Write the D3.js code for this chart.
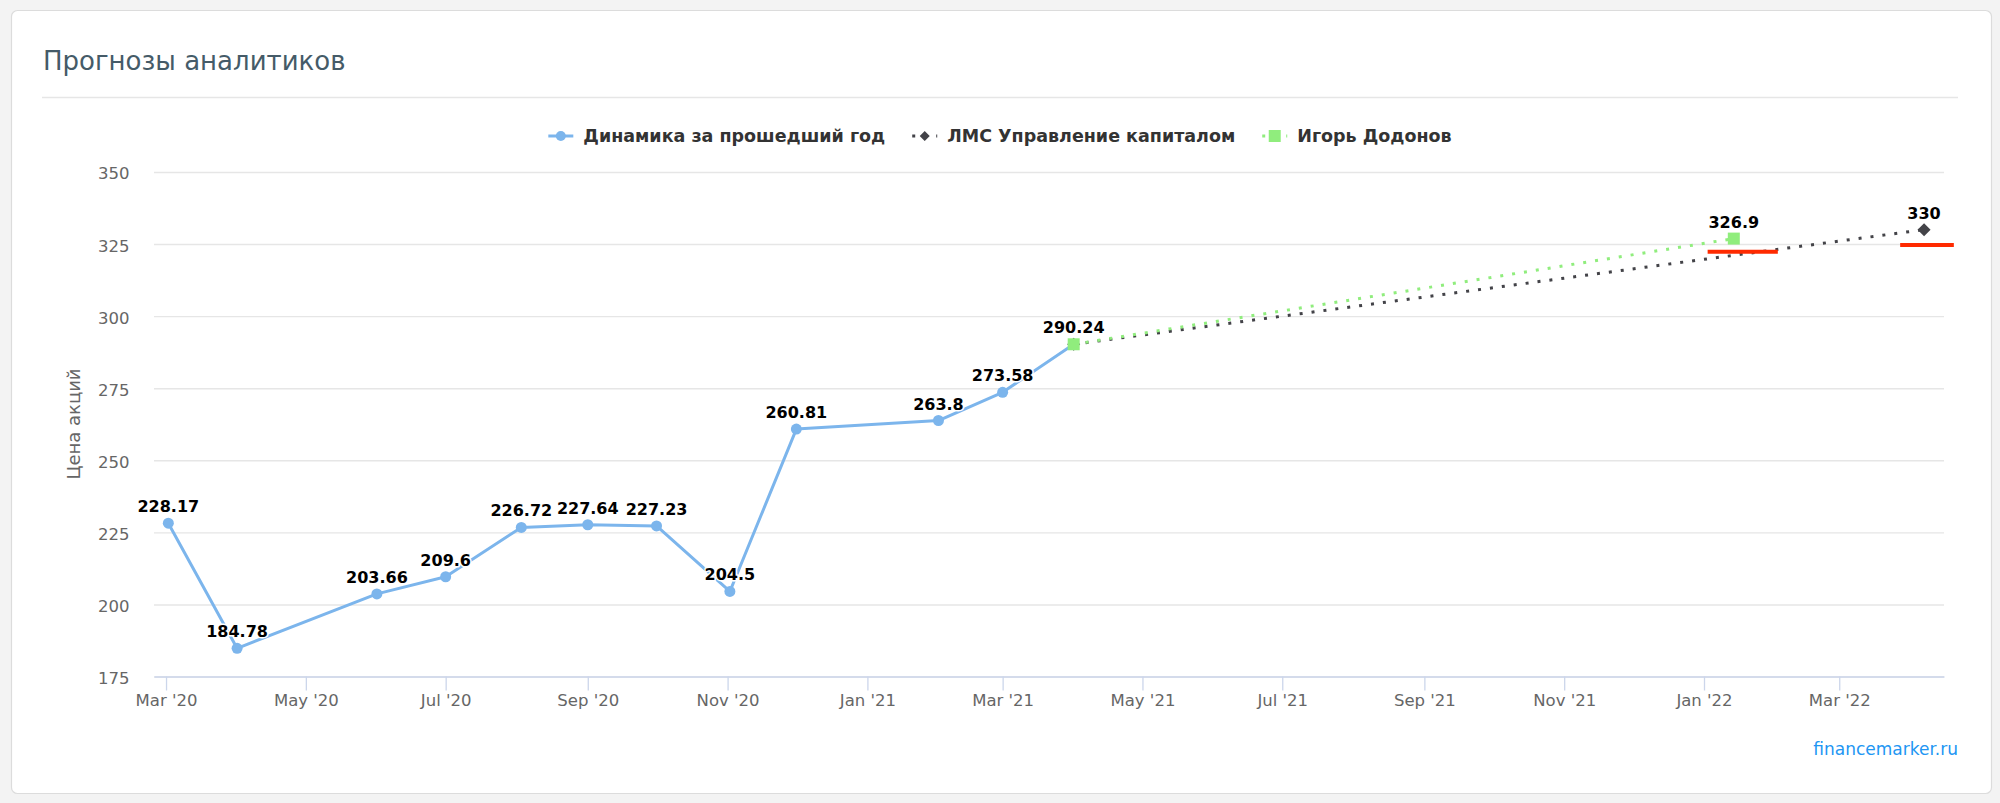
<!DOCTYPE html>
<html><head><meta charset="utf-8">
<script src="https://cdn.jsdelivr.net/npm/d3@7"></script>
<style>
html,body{margin:0;padding:0;background:#f3f3f3;}
svg{display:block;}
text{font-family:"DejaVu Sans",sans-serif;}
</style></head><body>
<svg id="chart" width="2000" height="803"></svg>
<script>
// ---------- data ----------
const titleText = "Прогнозы аналитиков";
const yAxisTitle = "Цена акций";
const creditText = "financemarker.ru";
const seriesNames = ["Динамика за прошедший год", "ЛМС Управление капиталом", "Игорь Додонов"];

const historyDates = ["2020-03-02","2020-04-01","2020-06-01","2020-07-01","2020-08-03","2020-09-01",
                      "2020-10-01","2020-11-02","2020-12-01","2021-02-01","2021-03-01","2021-04-01"];
const historyValues = [228.17, 184.78, 203.66, 209.6, 226.72, 227.64, 227.23, 204.5, 260.81, 263.8, 273.58, 290.24];

const lmsDates = ["2021-04-01", "2022-04-07"];
const lmsValues = [290.24, 330];

const dodonovDates = ["2021-04-01", "2022-01-14"];
const dodonovValues = [290.24, 326.9];

const markStart = ["2022-01-02T14:00", "2022-03-27T14:00"];
const markEnd   = ["2022-02-02T05:00", "2022-04-20T00:00"];
const markValues = [322.3, 324.7];

const yTicks = [175, 200, 225, 250, 275, 300, 325, 350];
const xDomain = ["2020-02-24T18:00", "2022-04-15T17:00"];
const yDomain = [175, 350];

// ---------- helpers ----------
const parse = s => new Date(s.length > 10 ? s + ":00Z" : s + "T00:00:00Z");
const zip = (ds, vs) => ds.map((d, i) => ({date: parse(d), value: vs[i]}));
const history = zip(historyDates, historyValues);
const lms = zip(lmsDates, lmsValues);
const dodonov = zip(dodonovDates, dodonovValues);
const marks = markStart.map((s, i) => ({start: parse(s), end: parse(markEnd[i]), value: markValues[i]}));

const colors = {history: "#7cb5ec", lms: "#434348", dodonov: "#90ed7d", mark: "#ff2a00"};

const svg = d3.select("#chart");
const plot = {left: 154, right: 1944, top: 172, bottom: 676.5};

const x = d3.scaleUtc().domain(xDomain.map(parse)).range([plot.left, plot.right]);
const y = d3.scaleLinear().domain(yDomain).range([plot.bottom, plot.top]);

// ---------- card ----------
svg.append("rect").attr("x", 11.5).attr("y", 10.5).attr("width", 1980).attr("height", 783)
  .attr("rx", 6).attr("fill", "#fff").attr("stroke", "#dcdcdc").attr("stroke-width", 1.2);

svg.append("text").attr("x", 43).attr("y", 70).text(titleText)
  .attr("font-size", 26).attr("fill", "#455b68");

svg.append("line").attr("x1", 42).attr("x2", 1958).attr("y1", 97.5).attr("y2", 97.5)
  .attr("stroke", "#e6e6e6").attr("stroke-width", 1.5);

// ---------- grid ----------
const grid = svg.append("g").attr("transform", `translate(${plot.left},0)`)
  .call(d3.axisLeft(y).tickValues(yTicks).tickSize(-(plot.right - plot.left)).tickFormat(""));
grid.select(".domain").remove();
grid.selectAll("line").attr("stroke", "#e6e6e6").attr("stroke-width", 1.4);

// y labels
const yAx = svg.append("g").attr("transform", `translate(${plot.left},0)`)
  .call(d3.axisLeft(y).tickValues(yTicks).tickSize(0).tickPadding(24.5));
yAx.select(".domain").remove();
yAx.selectAll("text").attr("font-size", 16.5).attr("fill", "#666").attr("dy", "0.42em")
  .style("font-family", '"DejaVu Sans",sans-serif');

svg.append("text").attr("transform", `translate(73.5,424) rotate(-90)`)
  .attr("text-anchor", "middle").attr("dominant-baseline", "central")
  .attr("font-size", 18).attr("fill", "#666").text(yAxisTitle);

// x axis
const xAx = svg.append("g").attr("transform", `translate(0,${plot.bottom})`)
  .call(d3.axisBottom(x).ticks(d3.utcMonth.every(2)).tickFormat(d3.utcFormat("%b '%y"))
    .tickSize(14).tickSizeOuter(0).tickPadding(4));
xAx.select(".domain").attr("stroke", "#ccd6eb").attr("stroke-width", 1.5);
xAx.selectAll(".tick line").attr("stroke", "#ccd6eb").attr("stroke-width", 1.3);
xAx.selectAll("text").attr("font-size", 16.5).attr("fill", "#666")
  .style("font-family", '"DejaVu Sans",sans-serif');

// ---------- series ----------
const line = d3.line().x(d => x(d.date)).y(d => y(d.value));

svg.append("path").datum(history).attr("d", line).attr("fill", "none")
  .attr("stroke", colors.history).attr("stroke-width", 3).attr("stroke-linejoin", "round");
svg.append("g").selectAll("circle").data(history).join("circle")
  .attr("cx", d => x(d.date)).attr("cy", d => y(d.value)).attr("r", 5.5).attr("fill", colors.history);

const diamondPath = (cx, cy, h) => `M${cx},${cy - h}L${cx + h},${cy}L${cx},${cy + h}L${cx - h},${cy}Z`;
const squarePath = (cx, cy, h) => `M${cx - h},${cy - h}h${2 * h}v${2 * h}h${-2 * h}Z`;

svg.append("path").datum(lms).attr("d", line).attr("fill", "none")
  .attr("stroke", colors.lms).attr("stroke-width", 3).attr("stroke-dasharray", "3,9");
svg.append("g").selectAll("path").data(lms).join("path")
  .attr("d", d => diamondPath(x(d.date), y(d.value), 6.5)).attr("fill", colors.lms);

svg.append("path").datum(dodonov).attr("d", line).attr("fill", "none")
  .attr("stroke", colors.dodonov).attr("stroke-width", 3).attr("stroke-dasharray", "3,9");
svg.append("g").selectAll("path").data(dodonov).join("path")
  .attr("d", d => squarePath(x(d.date), y(d.value), 6)).attr("fill", colors.dodonov);

// red markers
svg.append("g").selectAll("line").data(marks).join("line")
  .attr("x1", d => x(d.start)).attr("x2", d => x(d.end))
  .attr("y1", d => y(d.value)).attr("y2", d => y(d.value))
  .attr("stroke", colors.mark).attr("stroke-width", 4);

// ---------- data labels ----------
const labelData = history.concat([lms[lms.length - 1], dodonov[dodonov.length - 1]]);
svg.append("g").selectAll("text").data(labelData).join("text")
  .attr("x", d => x(d.date)).attr("y", d => y(d.value) - 11)
  .attr("text-anchor", "middle").attr("font-size", 16).attr("font-weight", "bold")
  .attr("fill", "#000").attr("stroke", "#fff").attr("stroke-width", 3)
  .attr("stroke-linejoin", "round").attr("paint-order", "stroke")
  .text(d => String(d.value));

// ---------- legend ----------
const legend = svg.append("g");
const legendY = 136;
const items = [
  {name: seriesNames[0], color: colors.history, dash: null, marker: "circle"},
  {name: seriesNames[1], color: colors.lms, dash: "3,9", marker: "diamond"},
  {name: seriesNames[2], color: colors.dodonov, dash: "3,9", marker: "square"}
];
const symW = 25, txtGap = 10, itemGap = 27;
const groups = items.map(it => {
  const g = legend.append("g");
  g.append("line").attr("x1", 0).attr("x2", symW).attr("y1", legendY).attr("y2", legendY)
    .attr("stroke", it.color).attr("stroke-width", 3).attr("stroke-dasharray", it.dash);
  const cx = symW / 2;
  if (it.marker === "circle") g.append("circle").attr("cx", cx).attr("cy", legendY).attr("r", 5).attr("fill", it.color);
  if (it.marker === "diamond") g.append("path").attr("d", diamondPath(cx, legendY, 5)).attr("fill", it.color);
  if (it.marker === "square") g.append("path").attr("d", squarePath(cx, legendY, 6)).attr("fill", it.color);
  const t = g.append("text").attr("x", symW + txtGap).attr("y", legendY + 6.3)
    .attr("font-size", 17.5).attr("font-weight", "bold").attr("fill", "#333").text(it.name);
  return {g, w: symW + txtGap + t.node().getComputedTextLength()};
});
const total = d3.sum(groups, d => d.w) + itemGap * (groups.length - 1);
let cur = 1000 - total / 2;
groups.forEach(d => { d.g.attr("transform", `translate(${cur},0)`); cur += d.w + itemGap; });

// credit
svg.append("text").attr("x", 1958).attr("y", 755).attr("text-anchor", "end")
  .attr("font-size", 17).attr("fill", "#2196f3").text(creditText);
</script>
</body></html>
